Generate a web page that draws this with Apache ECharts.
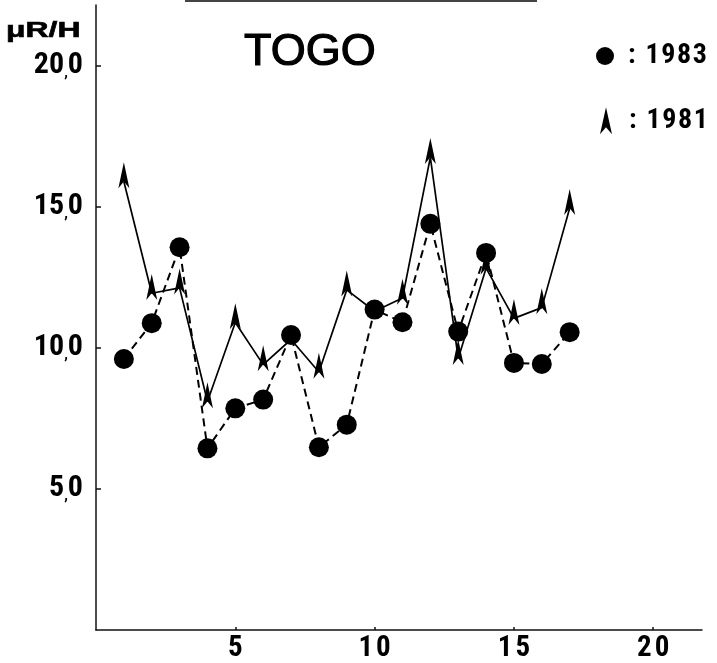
<!DOCTYPE html>
<html><head><meta charset="utf-8">
<script src="https://cdn.jsdelivr.net/npm/echarts@6/dist/echarts.min.js"></script>
<style>html,body{margin:0;padding:0;background:#fff}#c{width:717px;height:663px}</style>
</head><body><div id="c"></div>
<script>
// ---- data ----
const days = [1, 2, 3, 4, 5, 6, 7, 8, 9, 10, 11, 12, 13, 14, 15, 16, 17];
const dose1983 = [9.61, 10.88, 13.57, 6.44, 7.86, 8.17, 10.46, 6.48, 7.28, 11.36, 10.91, 14.40, 10.58, 13.37, 9.47, 9.43, 10.56];
const dose1981 = [15.9, 11.94, 12.13, 8.10, 10.90, 9.41, 10.3, 9.15, 12.06, 11.3, 11.77, 16.76, 9.63, 12.83, 11.05, 11.43, 14.95];
const yTickValues = [5, 10, 15, 20];
const xTickValues = [5, 10, 15, 20];
const seriesNames = ['1983', '1981'];
const titleText = 'TOGO';
const unitText = 'μR/H';

const COND = '"Roboto Condensed", "Open Sans Condensed", sans-serif';
const SANS = '"Liberation Sans", Arial, sans-serif';
const ARROW = 'path://M0,0L6,27L0,20L-6,27Z';

const spaced = s => String(s).split('').map(c => '{d|' + c + '}').join('');
const condText = (size, extra) => Object.assign({fontFamily: COND, fontWeight: 'bold', fontSize: size, color: '#000'}, extra || {});
const yLabel = v => {
  const [a, b] = v.toFixed(1).split('.');
  return '{n|' + a + '}{c|,}{n|' + b + '}';
};

const chart = echarts.init(document.getElementById('c'), null, {renderer: 'canvas'});
chart.setOption({
  animation: false,
  backgroundColor: '#fff',
  title: {
    text: titleText, left: 244, top: 30, padding: 0,
    textStyle: {fontFamily: SANS, fontSize: 45, fontWeight: 'normal', color: '#000',
      textBorderColor: '#000', textBorderWidth: 1.2}
  },
  graphic: [
    {type: 'line', shape: {x1: 185, y1: 1, x2: 537, y2: 1}, style: {stroke: '#444', lineWidth: 2}, silent: true},
    {type: 'text', x: 6, y: 19.5, scaleX: 1.45, silent: true,
      style: {text: unitText, fontFamily: SANS, fontSize: 22, fontWeight: 'bold', fill: '#000', align: 'left', verticalAlign: 'top',
        stroke: '#000', lineWidth: 0.6}}
  ],
  legend: [
    {
      data: [{name: seriesNames[0], icon: 'circle'}], selectedMode: false,
      left: 596, top: 42, padding: 0, itemWidth: 18, itemHeight: 18,
      formatter: n => '{c|:}' + spaced(n),
      textStyle: condText(28, {rich: {c: condText(28, {padding: [0, 9, 0, 9]}), d: condText(28, {padding: [0, 0.8, 0, 0.8]})}})
    },
    {
      data: [{name: seriesNames[1], icon: ARROW}], selectedMode: false,
      left: 600, top: 106.7, padding: 0, itemWidth: 12, itemHeight: 27,
      formatter: n => '{c|:}' + spaced(n),
      textStyle: condText(28, {rich: {c: condText(28, {padding: [0, 9, 0, 12]}), d: condText(28, {padding: [0, 0.8, 0, 0.8]})}})
    }
  ],
  grid: {left: 96, right: 15, top: 5, bottom: 33, containLabel: false},
  xAxis: {
    type: 'value', min: 0, max: 21.75,
    axisLine: {show: true, onZero: false, lineStyle: {color: '#111', width: 1.5}},
    axisTick: {show: true, inside: true, length: 3, customValues: xTickValues, lineStyle: {color: '#111', width: 1.5}},
    axisLabel: Object.assign(condText(29), {customValues: xTickValues, margin: 4, formatter: v => spaced(v),
      rich: {d: condText(29, {padding: [0, 1.5, 0, 1.5]})}}),
    splitLine: {show: false}
  },
  yAxis: {
    type: 'value', min: 0, max: 22.16,
    axisLine: {show: true, onZero: false, lineStyle: {color: '#111', width: 1.5}},
    axisTick: {show: true, inside: true, length: 5, customValues: yTickValues, lineStyle: {color: '#111', width: 1.5}},
    axisLabel: Object.assign(condText(30), {customValues: yTickValues, margin: 13, formatter: yLabel,
      rich: {n: condText(30), c: condText(15, {verticalAlign: 'bottom'})}}),
    splitLine: {show: false}
  },
  series: [
    {
      name: seriesNames[1], type: 'line', z: 2,
      data: days.map((d, i) => [d, dose1981[i]]),
      symbol: (v, p) => Math.abs(dose1981[p.dataIndex] - dose1983[p.dataIndex]) < 0.3 ? 'none' : ARROW,
      symbolSize: [11, 26], symbolOffset: [0, -6.3],
      itemStyle: {color: '#000'},
      lineStyle: {color: '#000', width: 1.7, type: 'solid'}
    },
    {
      name: seriesNames[0], type: 'line', z: 3,
      data: days.map((d, i) => [d, dose1983[i]]),
      symbol: 'circle', symbolSize: 20,
      itemStyle: {color: '#000'},
      lineStyle: {color: '#000', width: 2, type: [8, 5]}
    }
  ]
});
</script></body></html>
